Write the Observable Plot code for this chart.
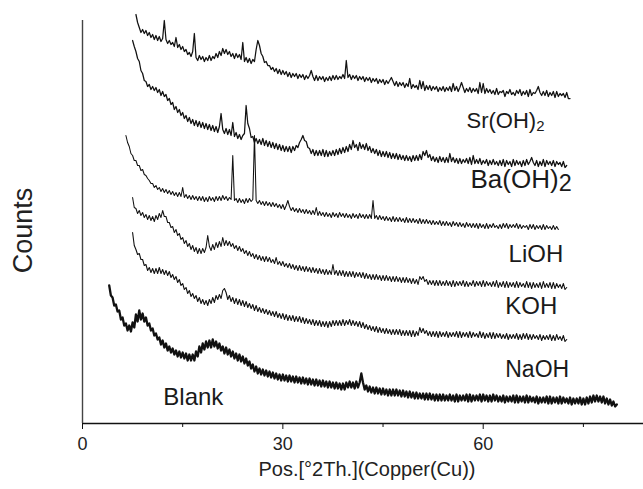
<!DOCTYPE html>
<html><head><meta charset="utf-8">
<script src="https://cdn.jsdelivr.net/npm/d3@7"></script>
<script src="https://cdn.jsdelivr.net/npm/@observablehq/plot@0.6"></script>
<style>
html,body{margin:0;padding:0;background:#fff;}
#chart svg{display:block;}
</style>
</head><body><div id="chart"></div>
<script>
// ---- data: 2θ (degrees) sampled every 0.25°, intensity in arbitrary counts ----
const seriesNames = ["Sr(OH)2", "Ba(OH)2", "LiOH", "KOH", "NaOH", "Blank"];
const startDeg = [8.0, 7.5, 6.5, 7.5, 7.5, 4.0];
const stepDeg = 0.25;

const srCounts = [
  409,401,396,391, 394,390,393,388, 391,386,389,384, 388,383,387,382,
  385,403,384,380, 383,379,381,377, 386,376,379,374, 377,372,374,369,
  371,367,372,390, 366,363,368,364, 367,362,366,363, 368,363,367,365,
  370,366,372,368, 375,370,374,369, 372,367,370,365, 370,366,369,364,
  381,362,366,361, 365,360,364,362, 374,383,378,370, 367,361,362,358,
  358,354,356,352, 355,350,354,349, 353,349,352,347, 351,346,350,347,
  350,345,349,346, 349,344,348,345, 348,353,347,343, 348,343,347,344,
  347,342,346,343, 347,343,348,344, 348,344,347,345, 349,345,363,346,
  349,344,348,345, 348,343,347,344, 347,342,346,343, 346,341,345,342,
  345,340,344,341, 344,339,343,340, 343,346,342,338, 342,337,341,338,
  341,336,340,337, 345,335,339,336, 338,334,343,335, 342,333,338,334,
  338,333,337,334, 337,332,336,333, 337,332,336,333, 337,332,340,333,
  337,332,336,341, 336,331,335,332, 336,331,335,332, 335,330,341,331,
  340,330,335,331, 334,330,333,329, 335,329,332,331, 333,327,332,330,
  334,329,331,328, 333,330,334,328, 332,329,333,327, 334,328,331,330,
  333,337,331,328, 332,328,333,327, 331,328,332,326, 332,327,330,328,
  330,326,331,325, 325
];
const baCounts = [
  383,377,372,365, 362,353,350,343, 342,337,339,334, 337,333,336,331,
  334,328,332,327, 329,323,325,319, 321,314,317,311, 314,308,311,305,
  308,302,306,300, 304,298,303,297, 302,296,301,295, 300,294,299,293,
  298,292,297,291, 297,310,294,290, 295,289,294,288, 301,287,291,285,
  289,284,288,290, 318,300,295,286, 287,281,285,280, 284,279,285,278,
  283,277,282,276, 281,275,280,274, 279,273,278,272, 277,272,277,271,
  277,273,278,276, 281,284,288,283, 282,276,275,270, 274,268,273,268,
  273,268,274,267, 273,267,272,268, 273,268,274,269, 275,270,276,271,
  277,272,279,274, 283,276,279,273, 281,275,279,274, 280,273,277,271,
  275,270,274,268, 273,267,272,267, 272,266,271,265, 270,265,270,264,
  269,264,268,263, 268,263,267,262, 268,263,268,263, 269,264,272,268,
  273,266,269,263, 267,262,266,261, 267,262,266,261, 266,261,270,262,
  266,261,265,260, 265,260,264,261, 265,260,266,259, 268,260,264,260,
  265,259,263,260, 264,258,263,259, 264,259,262,258, 263,258,264,257,
  263,259,262,257, 264,258,263,259, 262,257,263,258, 264,259,262,266,
  261,258,263,257, 262,258,264,257, 263,259,262,258, 263,257,262,259,
  261,257,262,256, 258
];
const liCounts = [
  288,281,277,270, 268,263,263,258, 258,253,254,249, 248,245,243,240,
  240,236,238,234, 236,232,235,231, 234,230,233,229, 232,228,231,227,
  231,227,236,226, 229,225,228,224, 228,224,227,223, 227,223,227,222,
  226,222,227,223, 226,222,227,223, 227,223,228,224, 227,223,226,224,
  268,223,225,221, 225,221,224,220, 225,221,225,222, 224,288,223,220,
  223,219,222,218, 222,218,221,217, 221,217,220,216, 219,215,219,214,
  218,223,217,213, 216,212,215,211, 215,211,214,210, 214,210,213,209,
  213,209,216,208, 212,208,211,207, 211,207,210,206, 211,207,210,206,
  211,207,210,206, 210,206,209,205, 210,206,209,205, 210,206,209,205,
  209,205,209,205, 223,205,208,204, 208,204,207,203, 207,203,206,202,
  207,202,206,202, 206,202,205,201, 206,201,205,201, 205,201,204,200,
  205,200,204,200, 204,200,203,199, 203,199,202,199, 203,198,202,198,
  202,198,201,197, 202,198,201,197, 201,197,200,196, 201,197,200,196,
  200,196,200,195, 200,196,199,195, 200,195,199,196, 200,196,198,195,
  199,195,200,196, 200,195,199,196, 199,196,200,195, 199,195,198,196,
  198,194,199,195, 199,194,198,195, 198,194,199,194, 198,195,197,194,
  198,194,197,194
];
const kCounts = [
  226,216,215,210, 213,208,211,206, 209,204,208,203, 207,202,208,204,
  210,206,213,207, 207,201,201,196, 197,191,194,188, 190,184,186,180,
  183,177,180,174, 178,172,176,170, 175,170,175,171, 176,188,177,173,
  179,174,181,176, 182,177,186,178, 183,178,182,177, 180,175,178,173,
  177,172,175,170, 173,168,172,167, 170,165,169,164, 168,163,167,162,
  167,162,166,161, 164,160,166,159, 162,158,162,157, 160,156,160,155,
  159,154,158,153, 158,153,157,152, 157,152,156,151, 156,151,155,150,
  155,150,154,149, 154,149,153,149, 159,149,153,148, 153,148,153,147,
  152,147,152,147, 152,146,151,147, 151,146,151,145, 150,145,149,144,
  149,144,149,144, 148,143,148,143, 148,143,147,142, 147,142,147,142,
  146,141,146,141, 146,141,145,140, 145,140,144,139, 147,144,147,142,
  144,139,143,139, 143,138,143,138, 143,138,142,138, 143,138,142,137,
  143,137,142,138, 142,138,143,137, 142,137,141,138, 143,137,142,138,
  142,137,143,137, 142,138,141,137, 142,137,143,136, 141,137,142,136,
  142,136,141,137, 141,136,142,136, 141,137,140,136, 142,136,141,135,
  141,136,140,136, 141,135,142,136, 140,136,141,135, 141,135,140,136,
  139,135,140,134, 136
];
const naCounts = [
  191,178,174,169, 170,164,164,158, 159,153,156,151, 155,150,155,150,
  156,150,154,149, 153,148,152,146, 149,144,147,141, 144,138,140,134,
  136,130,133,127, 130,125,128,122, 126,120,124,119, 123,118,124,120,
  126,121,128,124, 129,125,133,135, 131,124,128,122, 126,120,125,119,
  124,118,123,117, 122,116,120,115, 119,113,118,112, 116,111,115,110,
  114,109,113,108, 112,107,112,106, 110,105,110,104, 109,103,108,103,
  108,102,107,102, 107,101,106,100, 105,100,104,99, 104,98,103,98,
  103,97,102,97, 102,96,102,97, 103,98,103,98, 103,98,104,98,
  103,99,104,98, 103,98,102,97, 102,96,101,95, 99,94,98,93,
  97,92,97,91, 96,91,95,90, 95,90,94,89, 94,89,94,89,
  94,88,93,88, 93,88,93,87, 93,87,92,88, 96,91,95,90,
  93,88,92,87, 92,87,92,86, 92,87,91,87, 92,86,91,87,
  91,87,92,86, 92,86,91,87, 91,86,92,86, 91,87,90,86,
  92,86,91,85, 90,86,91,85, 91,85,90,86, 90,85,89,85,
  90,84,89,85, 89,85,90,84, 89,84,90,85, 90,84,89,84,
  89,85,88,84, 89,83,88,84, 88,84,89,83, 88,83,89,84,
  87,83,88,82, 84
];
const blankCounts = [
  138,128,126,118, 119,112,113,104, 106,98,100,93, 98,92,101,96,
  109,102,113,104, 110,102,106,98, 100,93,95,88, 90,84,86,79,
  83,76,80,73, 77,71,75,69, 73,67,72,66, 71,65,70,63,
  69,63,69,63, 72,67,77,71, 80,74,82,76, 83,76,84,77,
  82,75,80,73, 77,70,76,69, 74,67,72,65, 70,63,69,62,
  67,60,65,58, 62,55,59,52, 57,50,55,49, 54,48,53,47,
  52,46,51,45, 50,44,49,43, 49,43,48,42, 48,42,47,41,
  47,41,46,40, 46,40,45,39, 45,39,44,38, 44,38,43,37,
  43,37,42,36, 42,36,41,35, 41,35,40,34, 40,34,41,36,
  42,36,41,35, 42,36,41,50, 41,34,38,32, 37,31,36,30,
  36,30,35,29, 35,29,34,28, 34,28,34,28, 34,28,33,27,
  33,27,32,26, 32,26,31,25, 31,25,30,25, 30,24,30,24,
  30,24,29,23, 29,23,29,23, 29,23,28,23, 29,23,28,22,
  29,22,28,23, 28,23,29,22, 29,22,28,23, 28,23,29,22,
  29,23,28,22, 28,22,29,23, 28,22,27,22, 28,21,27,22,
  27,22,28,21, 28,21,27,22, 27,21,28,21, 27,22,26,21,
  27,20,26,21, 26,21,27,20, 27,20,26,21, 26,20,27,20,
  26,21,25,20, 26,19,25,20, 25,20,26,19, 25,19,26,20,
  27,21,28,22, 28,22,27,21, 27,20,25,19, 24,18,22,17,
  19
];
const allCounts = [srCounts, baCounts, liCounts, kCounts, naCounts, blankCounts];

const majorTicks = [0, 30, 60];
const minorTicks = [15, 45, 75];
const xTitle = "Pos.[°2Th.](Copper(Cu))";
const yTitle = "Counts";

// ---- build table ----
const rows = [];
allCounts.forEach((vals, i) => {
  vals.forEach((v, j) => rows.push({series: seriesNames[i], deg: startDeg[i] + j * stepDeg, counts: v}));
});

// styles / annotation placement (data units)
const lineWidths = {"Sr(OH)2": 1.25, "Ba(OH)2": 1.25, "LiOH": 1.05, "KOH": 1.05, "NaOH": 1.1, "Blank": 2.3};
const labelSpec = [
  {name: "Sr(OH)2", deg: 57.5, counts: 303, size: 22},
  {name: "Ba(OH)2", deg: 58.1, counts: 244, size: 26},
  {name: "LiOH", deg: 63.8, counts: 169, size: 24},
  {name: "KOH", deg: 63.3, counts: 117, size: 24},
  {name: "NaOH", deg: 63.3, counts: 54, size: 23},
  {name: "Blank", deg: 12.1, counts: 26, size: 24}
];

const marks = [];
seriesNames.forEach(name => {
  marks.push(Plot.line(rows.filter(r => r.series === name), {
    x: "deg", y: "counts", stroke: "#111", strokeWidth: lineWidths[name], strokeLinejoin: "round"
  }));
});
labelSpec.forEach(l => {
  marks.push(Plot.text([l], {
    x: "deg", y: "counts", text: "name", textAnchor: "start", lineAnchor: "middle",
    fontSize: l.size, fill: "#1a1a1a", className: "curve-label"
  }));
});
marks.push(
  Plot.ruleY([0], {stroke: "#111", strokeWidth: 1.4}),
  Plot.ruleX([0], {stroke: "#444", strokeWidth: 1.4}),
  Plot.axisX({ticks: majorTicks, tickSize: 6, tickPadding: 8, tickFormat: d => String(d), fontSize: 18, label: null, stroke: "#111", color: "#222"}),
  Plot.axisX({ticks: minorTicks, tickSize: 4, tickFormat: () => "", label: null, stroke: "#111"}),
  Plot.text([xTitle], {text: d => d, frameAnchor: "bottom", dy: 52, dx: 4, fontSize: 20, fill: "#222"}),
  Plot.text([yTitle], {text: d => d, frameAnchor: "left", y: [193], rotate: -90, dx: -59, textAnchor: "middle", lineAnchor: "middle", fontSize: 27, fill: "#222"})
);

const chart = Plot.plot({
  width: 643,
  height: 489,
  marginLeft: 82,
  marginRight: 0,
  marginTop: 20,
  marginBottom: 66,
  style: {fontFamily: "'Liberation Sans', Arial, sans-serif", background: "#fff"},
  x: {domain: [0, 84], axis: null},
  y: {domain: [0, 403], axis: null},
  marks
});

// subscripts for the hydroxide labels
d3.select(chart).selectAll("g.curve-label text").each(function() {
  const t = d3.select(this);
  const s = t.text();
  const m = s.match(/^(.*\))(\d)$/);
  if (!m) return;
  const isBa = s.startsWith("Ba");
  t.text(null);
  t.append("tspan").text(m[1]);
  t.append("tspan").text(m[2])
    .attr("dy", isBa ? "0.12em" : "0.23em")
    .attr("font-size", isBa ? "0.9em" : "0.68em");
});

document.getElementById("chart").appendChild(chart);
</script>
</body></html>
